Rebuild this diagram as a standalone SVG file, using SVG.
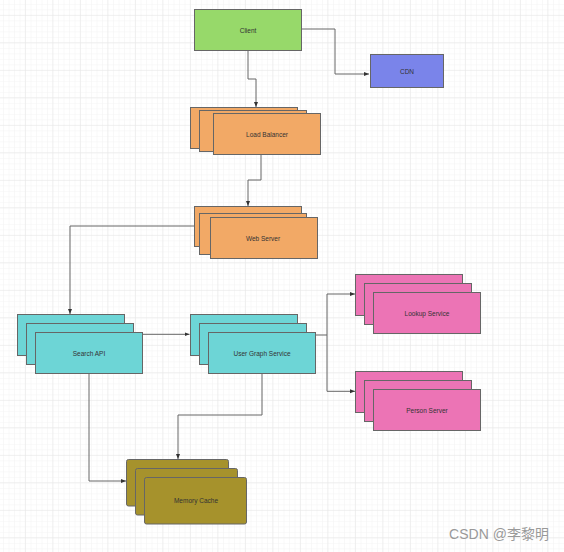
<svg xmlns="http://www.w3.org/2000/svg" width="564" height="552" viewBox="0 0 564 552">
<defs>
<pattern id="minor" x="-1.5" y="-0.7" width="5.5" height="5.5" patternUnits="userSpaceOnUse">
<path d="M5.5 0V5.5M0 5.5H5.5" fill="none" stroke="#f3f3f3" stroke-width="1"/>
</pattern>
<pattern id="major" x="-1.7" y="-11.7" width="27.5" height="27.5" patternUnits="userSpaceOnUse">
<path d="M27.5 0V27.5M0 27.5H27.5" fill="none" stroke="#e6e6e6" stroke-width="1"/>
</pattern>
<marker id="arr" viewBox="0 0 10 10" refX="10" refY="5" markerWidth="5" markerHeight="5" orient="auto" markerUnits="userSpaceOnUse">
<path d="M0 1L10 5L0 9Z" fill="#333"/>
</marker>
</defs>
<style>
rect.n{stroke:#666;stroke-width:1}
.green{fill:#97d96a}
.blue{fill:#7a84ea}
.orange{fill:#f2a966}
.teal{fill:#6dd5d6}
.pink{fill:#ec74b5}
.olive{fill:#a6922c}
text{font-family:"Liberation Sans",Arial,sans-serif;font-size:6.5px;fill:#333;text-anchor:middle;dominant-baseline:central}
.conn path{fill:none;stroke:#666;stroke-width:1}
</style>
<rect width="564" height="552" fill="#fff"/>
<rect width="564" height="552" fill="url(#minor)"/>
<rect width="564" height="552" fill="url(#major)"/>

<g class="conn">
<path d="M301 29H335V74H369" marker-end="url(#arr)"/>
<path d="M248 50V79H256V107" marker-end="url(#arr)"/>
<path d="M261 154V180H248V206" marker-end="url(#arr)"/>
<path d="M194 226H70V314" marker-end="url(#arr)"/>
<path d="M143 334.3H189.5" marker-end="url(#arr)"/>
<path d="M316 335H327V294H355" marker-end="url(#arr)"/>
<path d="M327 335V391.3H355" marker-end="url(#arr)"/>
<path d="M262 373.5V415H178V459" marker-end="url(#arr)"/>
<path d="M89 373.5V481H126" marker-end="url(#arr)"/>
</g>

<g id="client">
<rect class="n green" x="194.5" y="9.5" width="107" height="41"/>
<text x="248" y="30">Client</text>
</g>
<g id="cdn">
<rect class="n blue" x="370.5" y="54.5" width="73" height="33"/>
<text x="407" y="71">CDN</text>
</g>
<g id="load-balancer">
<rect class="n orange" x="190.5" y="107.5" width="107" height="41"/>
<rect class="n orange" x="199.5" y="110.5" width="107" height="41"/>
<rect class="n orange" x="213.5" y="113.5" width="107" height="41"/>
<text x="267" y="134">Load Balancer</text>
</g>
<g id="web-server">
<rect class="n orange" x="194.5" y="206.5" width="107" height="40"/>
<rect class="n orange" x="199.5" y="213.5" width="107" height="41"/>
<rect class="n orange" x="210.5" y="217.5" width="107" height="41"/>
<text x="263" y="238">Web Server</text>
</g>
<g id="search-api">
<rect class="n teal" x="17.5" y="314.5" width="107" height="41"/>
<rect class="n teal" x="26.5" y="323.5" width="107" height="41"/>
<rect class="n teal" x="35.5" y="332.5" width="107" height="41"/>
<text x="89" y="353">Search API</text>
</g>
<g id="user-graph-service">
<rect class="n teal" x="190.5" y="314.5" width="107" height="41"/>
<rect class="n teal" x="199.5" y="323.5" width="107" height="41"/>
<rect class="n teal" x="208.5" y="332.5" width="107" height="41"/>
<text x="262" y="353">User Graph Service</text>
</g>
<g id="lookup-service">
<rect class="n pink" x="355.5" y="274.5" width="107" height="41"/>
<rect class="n pink" x="364.5" y="283.5" width="107" height="41"/>
<rect class="n pink" x="373.5" y="292.5" width="107" height="41"/>
<text x="427" y="313">Lookup Service</text>
</g>
<g id="person-server">
<rect class="n pink" x="355.5" y="371.5" width="107" height="41"/>
<rect class="n pink" x="364.5" y="380.5" width="107" height="41"/>
<rect class="n pink" x="373.5" y="389.5" width="107" height="41"/>
<text x="427" y="410">Person Server</text>
</g>
<g id="memory-cache">
<rect class="n olive" x="126.5" y="459.5" width="102" height="46.5" rx="2"/>
<rect class="n olive" x="135.5" y="468.5" width="102" height="46.5" rx="2"/>
<rect class="n olive" x="144.5" y="477.5" width="102" height="46.5" rx="2"/>
<text x="196" y="500">Memory Cache</text>
</g>
<text x="499" y="534" style="font-family:'Liberation Sans','Noto Sans CJK SC',sans-serif;font-size:14px;fill:#999">CSDN @李黎明</text>
</svg>
